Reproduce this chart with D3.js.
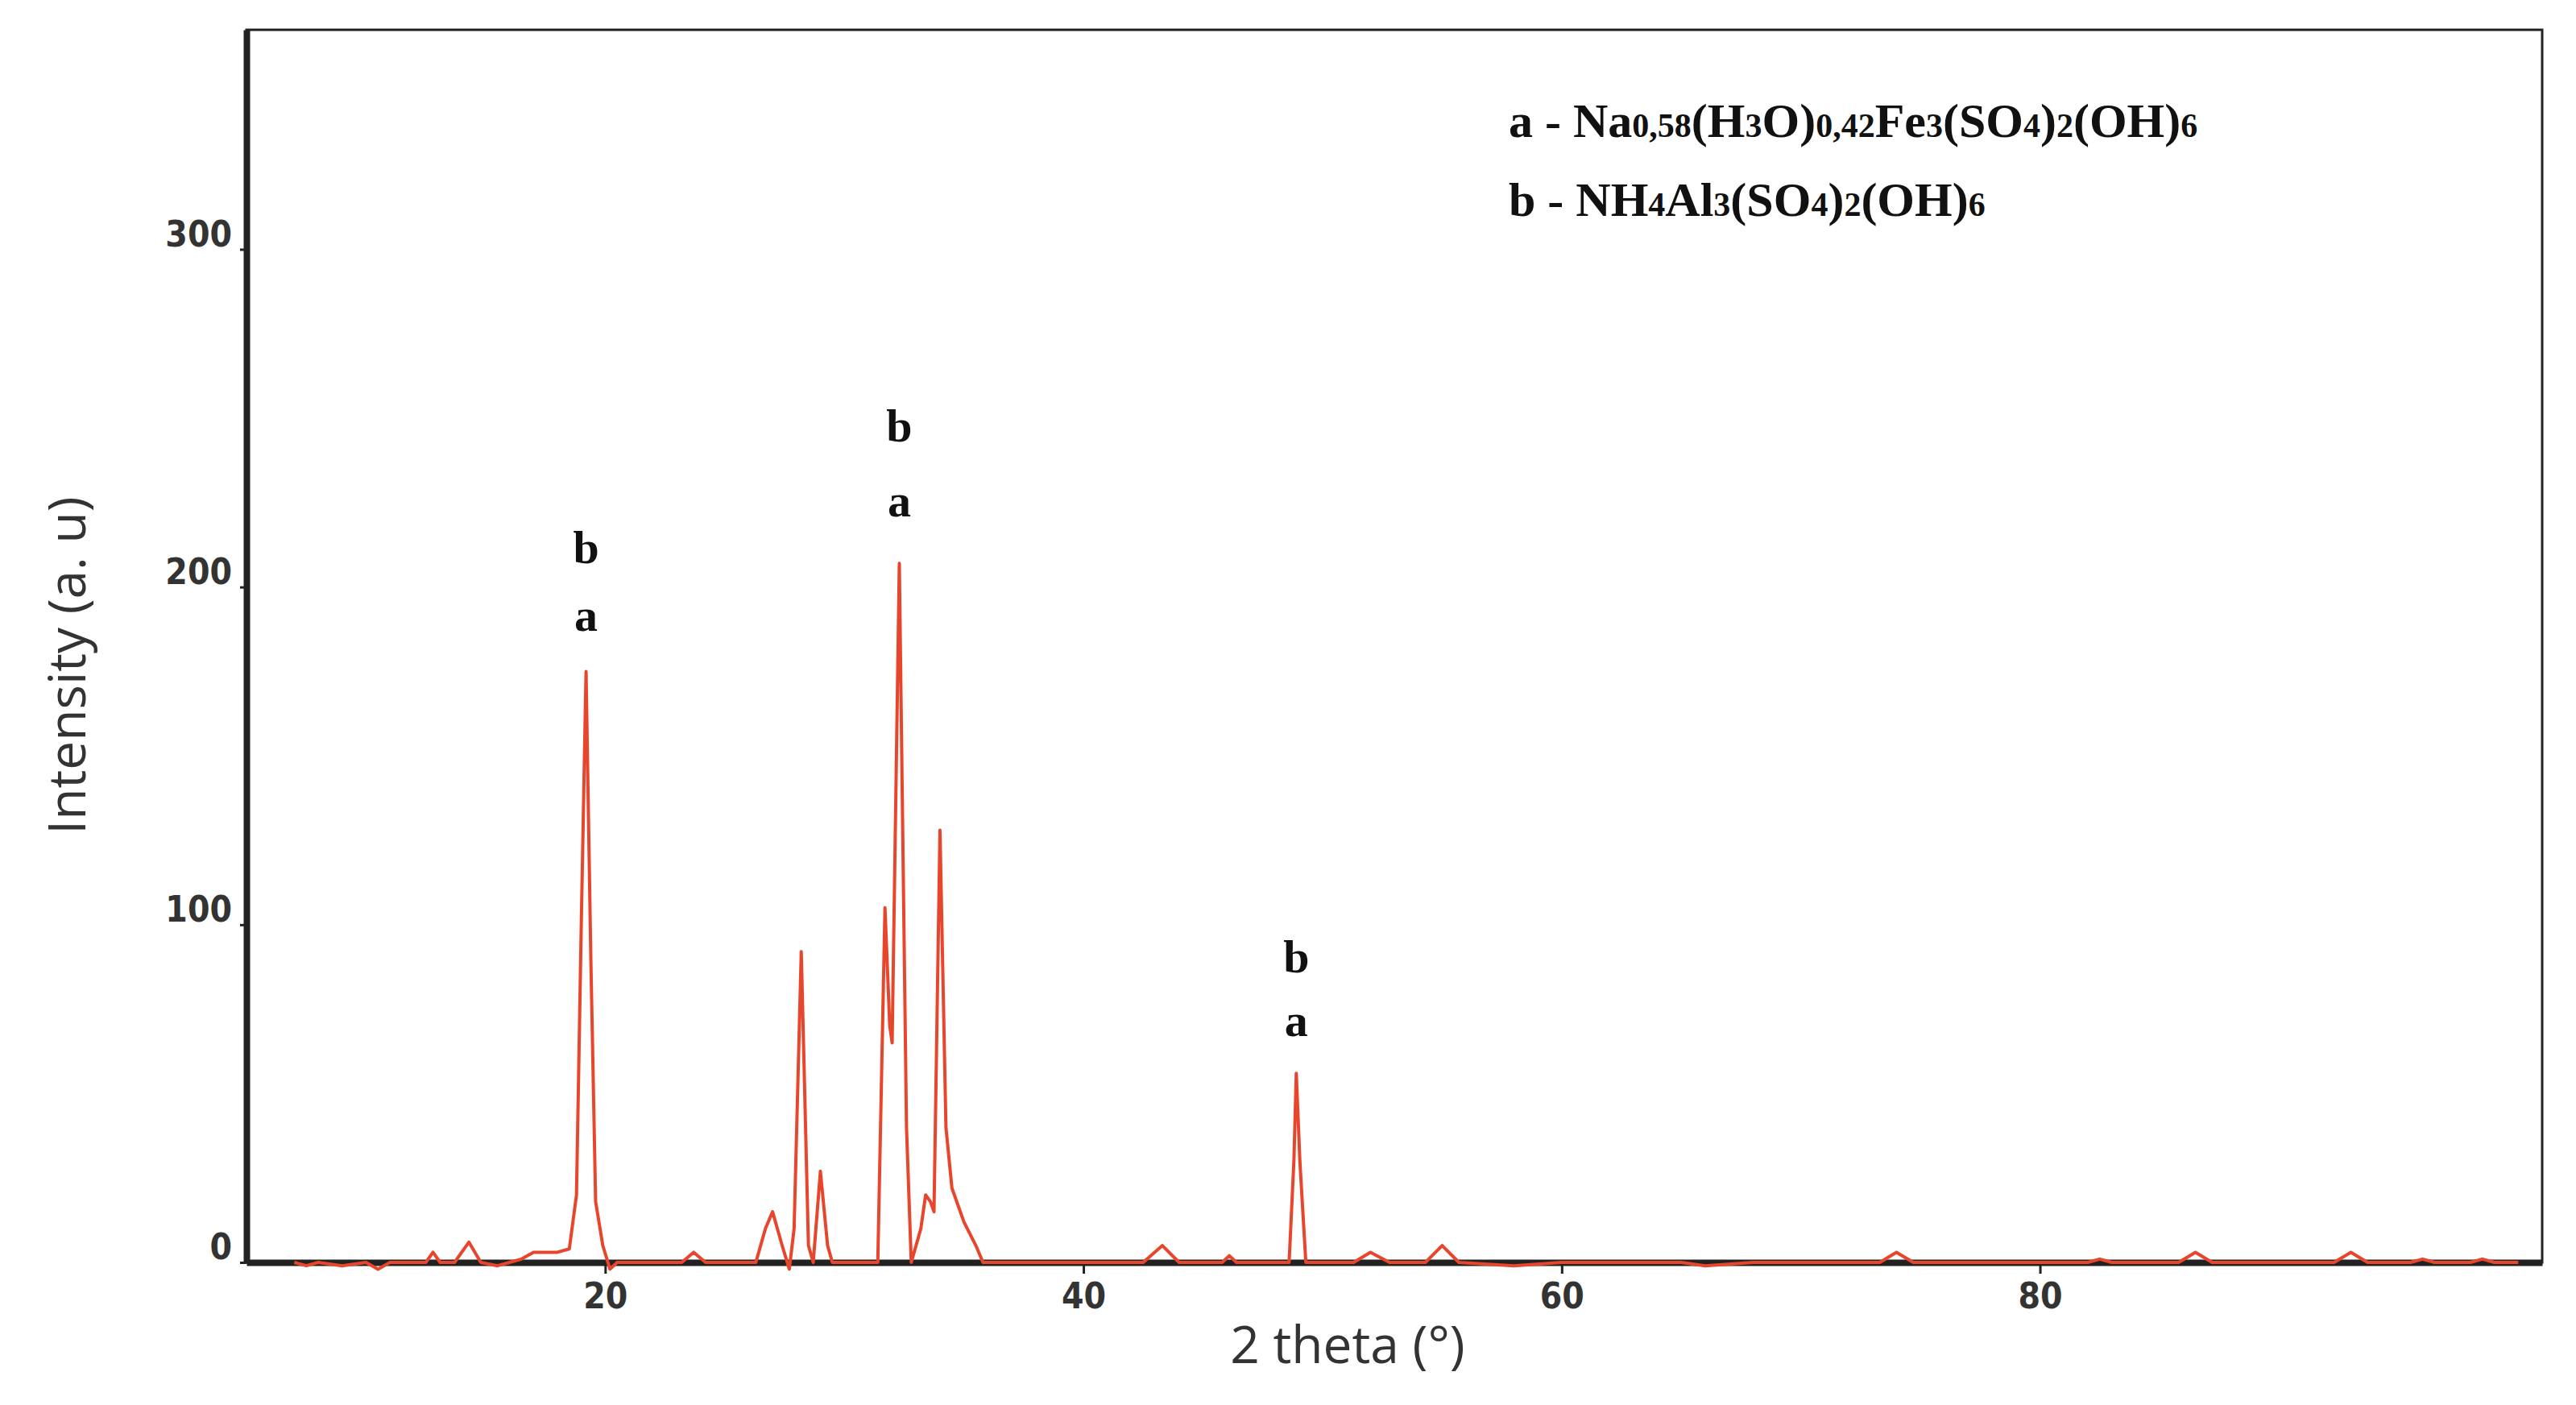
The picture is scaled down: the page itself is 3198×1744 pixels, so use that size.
<!DOCTYPE html>
<html><head><meta charset="utf-8">
<script src="https://cdn.jsdelivr.net/npm/d3@7"></script>
<style>body{margin:0;background:#fff}</style>
</head><body>
<svg id="chart" width="3198" height="1744"></svg>
<script>
// pattern: [2 theta, intensity]
const pattern = [
  [7,0],[7.5,-1],[8,0],[9,-1],[10,0],[10.5,-2],[11,0],[12.5,0],[12.8,3],[13.1,0],[13.7,0],[14.3,6],[14.8,0],
  [15.5,-1],[16,0],[16.5,1],[17,3],[18,3],[18.5,4],[18.8,20],[19.0,100],[19.2,175],[19.4,90],[19.6,18],[19.9,5],
  [20.2,-2],[20.5,0],[23.2,0],[23.7,3],[24.2,0],[26.3,0],[26.7,10],[27.0,15],[27.4,5],[27.7,-2],[27.9,10],
  [28.2,92],[28.5,5],[28.7,0],[29.0,27],[29.3,5],[29.5,0],[31.4,0],[31.7,105],[31.9,70],[32.0,65],[32.3,207],
  [32.6,40],[32.8,0],[33.2,10],[33.4,20],[33.6,18],[33.75,15],[34.0,128],[34.25,40],[34.5,22],[35.0,12],[35.5,5],[35.8,0],
  [42.5,0],[43.3,5],[44,0],[45.8,0],[46.1,2],[46.4,0],[48.6,0],[48.8,30],[48.9,56],[49.05,30],[49.3,0],
  [51.3,0],[52,3],[52.8,0],[54.3,0],[55,5],[55.7,0],[58,-1],[60,0],[65,0],[66,-1],[68,0],
  [73.3,0],[74,3],[74.7,0],[82,0],[82.5,1],[83,0],[85.8,0],[86.5,3],[87.2,0],[92.3,0],[93,3],[93.7,0],[95.5,0],[96,1],[96.5,0],[98,0],[98.5,1],[99,0],[100,0]
];
const xTicks = [20, 40, 60, 80];
const yTicks = [0, 100, 200, 300];
const peakMarks = [[19.2, 187, "a"], [19.2, 207, "b"], [32.3, 221, "a"], [32.3, 243, "b"], [48.9, 67, "a"], [48.9, 86, "b"]];
const legendLines = [
  [["a - Na", 0], ["0,58", 1], ["(H", 0], ["3", 1], ["O)", 0], ["0,42", 1], ["Fe", 0], ["3", 1], ["(SO", 0], ["4", 1], [")", 0], ["2", 1], ["(OH)", 0], ["6", 1]],
  [["b - NH", 0], ["4", 1], ["Al", 0], ["3", 1], ["(SO", 0], ["4", 1], [")", 0], ["2", 1], ["(OH)", 0], ["6", 1]]
];

const svg = d3.select("#chart");
const plotL = 306, plotR = 3156, plotT = 37, plotB = 1567;
const x = d3.scaleLinear().domain([5, 101]).range([plotL, plotR]);
const y = d3.scaleLinear().domain([0, 365]).range([plotB, plotT]);

// frame
svg.append("rect").attr("x", plotL).attr("y", plotT).attr("width", plotR - plotL).attr("height", plotB - plotT)
  .attr("fill", "none").attr("stroke", "#222").attr("stroke-width", 3);

const tickFont = "'Liberation Sans Narrow','DejaVu Sans Condensed',sans-serif";
const xAxis = svg.append("g").attr("transform", `translate(0,${plotB})`)
  .call(d3.axisBottom(x).tickValues(xTicks).tickSize(14).tickSizeOuter(0).tickPadding(12));
const yAxis = svg.append("g").attr("transform", `translate(${plotL},0)`)
  .call(d3.axisLeft(y).tickValues(yTicks).tickSize(8).tickSizeOuter(0).tickPadding(10));
[xAxis, yAxis].forEach(g => {
  g.select(".domain").attr("stroke", "#222").attr("stroke-width", 8);
  g.selectAll(".tick line").attr("stroke", "#222").attr("stroke-width", 3);
  g.selectAll(".tick text").attr("font-family", tickFont).attr("font-weight", "bold")
    .attr("font-size", 44).attr("fill", "#333");
});
yAxis.selectAll(".tick text").attr("dy", "-0.1em");

// pattern
svg.append("path").datum(pattern)
  .attr("fill", "none").attr("stroke", "#e8462c").attr("stroke-width", 4).attr("stroke-linejoin", "round")
  .attr("d", d3.line().x(d => x(d[0])).y(d => y(d[1])));

// peak letters
svg.selectAll(".mark").data(peakMarks).enter().append("text")
  .attr("x", d => x(d[0])).attr("y", d => y(d[1]))
  .attr("text-anchor", "middle").attr("font-family", "'Liberation Serif',serif")
  .attr("font-weight", "bold").attr("font-size", 58).attr("fill", "#111").text(d => d[2]);

// legend
legendLines.forEach((line, i) => {
  const t = svg.append("text").attr("x", 1873).attr("y", 170 + i * 98)
    .attr("font-family", "'Liberation Serif',serif").attr("font-weight", "bold").attr("fill", "#111");
  line.forEach(([s, sub]) => t.append("tspan").attr("font-size", sub ? 42 : 60).text(s));
});

// axis titles
svg.append("text").attr("x", 1673).attr("y", 1692).attr("text-anchor", "middle")
  .attr("font-family", "'Open Sans',sans-serif").attr("font-size", 64).attr("fill", "#333").text("2 theta (°)");
svg.append("text").attr("transform", "translate(106,826) rotate(-90)").attr("text-anchor", "middle")
  .attr("font-family", "'Open Sans',sans-serif").attr("font-size", 64).attr("fill", "#333").text("Intensity (a. u)");
</script>
</body></html>
